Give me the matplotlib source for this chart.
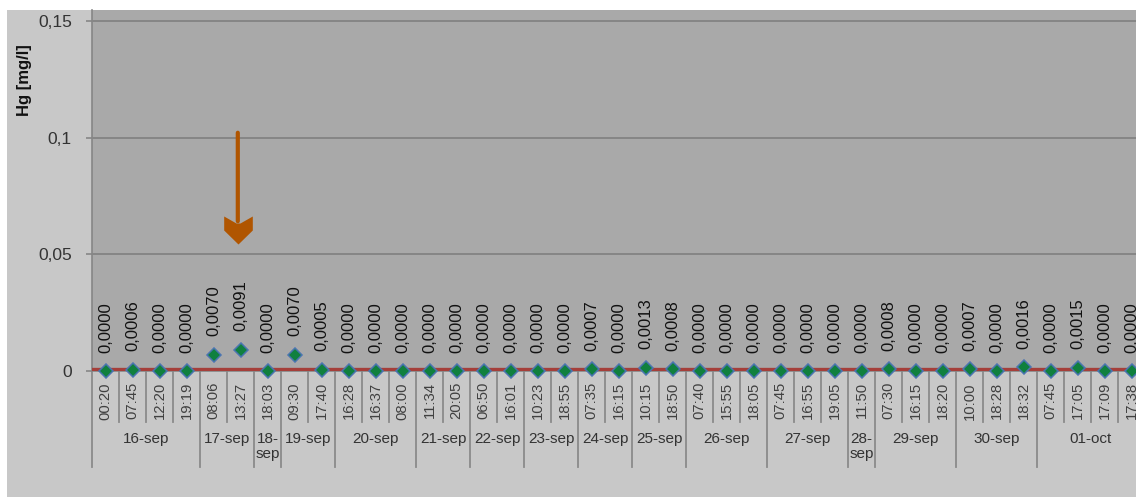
import matplotlib
matplotlib.use("Agg")
import matplotlib.pyplot as plt
from matplotlib.patches import Rectangle
from matplotlib.path import Path
from matplotlib.ticker import FixedLocator, FuncFormatter

plt.rcParams['font.family'] = ['Liberation Sans', 'DejaVu Sans']

# Data
dates = ["16-sep", "17-sep", "18-\nsep", "19-sep", "20-sep", "21-sep", "22-sep",
         "23-sep", "24-sep", "25-sep", "26-sep", "27-sep", "28-\nsep", "29-sep",
         "30-sep", "01-oct"]
times = [
    ["00:20", "07:45", "12:20", "19:19"],
    ["08:06", "13:27"],
    ["18:03"],
    ["09:30", "17:40"],
    ["16:28", "16:37", "08:00"],
    ["11:34", "20:05"],
    ["06:50", "16:01"],
    ["10:23", "18:55"],
    ["07:35", "16:15"],
    ["10:15", "18:50"],
    ["07:40", "15:55", "18:05"],
    ["07:45", "16:55", "19:05"],
    ["11:50"],
    ["07:30", "16:15", "18:20"],
    ["10:00", "18:28", "18:32"],
    ["07:45", "17:05", "17:09", "17:38"],
]
hg = [0.0000, 0.0006, 0.0000, 0.0000,
      0.0070, 0.0091,
      0.0000,
      0.0070, 0.0005,
      0.0000, 0.0000, 0.0000,
      0.0000, 0.0000,
      0.0000, 0.0000,
      0.0000, 0.0000,
      0.0007, 0.0000,
      0.0013, 0.0008,
      0.0000, 0.0000, 0.0000,
      0.0000, 0.0000, 0.0000,
      0.0000,
      0.0008, 0.0000, 0.0000,
      0.0007, 0.0000, 0.0016,
      0.0000, 0.0015, 0.0000, 0.0000]
limit = 0.001
yticks = [0, 0.05, 0.1, 0.15]

# Figure / layout (pixels)
W, H = 1136, 499
ax_left, ax_right, ax_top, ax_bottom = 92, 1145, 10, 371
ax_h = ax_bottom - ax_top

fig = plt.figure(figsize=(W / 100, H / 100), dpi=100, facecolor="white")
fig.patches.append(Rectangle((7 / W, 2 / H), 1, 487 / H, transform=fig.transFigure,
                             facecolor="#c8c8c8", edgecolor="none", zorder=-10))
ax = fig.add_axes([ax_left / W, (H - ax_bottom) / H, (ax_right - ax_left) / W, ax_h / H])
ax.set_facecolor("#a9a9a9")

n = len(hg)
xs = list(range(n))
ax.set_xlim(-0.5, n - 0.5)
ax.set_ylim(0, 0.15 + 11 / 2333)

# grid
for yv in yticks[1:]:
    ax.axhline(yv, color="#808080", lw=1.2, zorder=1)

for s in ["top", "right"]:
    ax.spines[s].set_visible(False)
ax.spines["left"].set_color("#868686")
ax.spines["left"].set_linewidth(1.2)
ax.spines["bottom"].set_color("#868686")
ax.spines["bottom"].set_linewidth(1.2)

ax.yaxis.set_major_locator(FixedLocator(yticks))
ax.yaxis.set_major_formatter(FuncFormatter(lambda v, p: "0" if v == 0 else f"{v:g}".replace(".", ",")))
ax.tick_params(axis="y", length=4.5, width=1.2, color="#868686", pad=10,
               labelsize=12.5, labelcolor="#333333")
ax.set_xticks([])

# limit line and series
ax.axhline(limit, color="#a53f3a", lw=2.4, zorder=3)
ax.plot(xs, hg, linestyle="none", marker="D", markersize=6.8,
        markerfacecolor="#10803e", markeredgecolor="#4a74b0", markeredgewidth=1.1,
        zorder=4, clip_on=False)

for x, v in zip(xs, hg):
    ax.annotate(f"{v:.4f}".replace(".", ","), xy=(x, v), xytext=(0, 13.3),
                textcoords="offset points", rotation=90, ha="center", va="bottom",
                fontsize=12, color="#111111")

# category axis: times and dates
xt = ax.get_xaxis_transform()
def fy(px):
    return -(px - ax_bottom) / ax_h

sep_col = "#8a8a8a"
for x, t in zip(xs, [t for g in times for t in g]):
    ax.text(x, fy(382), t, transform=xt, rotation=90, ha="center", va="top",
            fontsize=10.7, color="#404040", clip_on=False)

start = 0
for d, g in zip(dates, times):
    k = len(g)
    ax.plot([start - 0.5] * 2, [0, fy(467)], transform=xt, color=sep_col, lw=1.3, clip_on=False)
    for j in range(1, k):
        ax.plot([start + j - 0.5] * 2, [0, fy(422)], transform=xt, color=sep_col, lw=1.3,
                clip_on=False)
    ax.text(start + (k - 1) / 2, fy(432), d, transform=xt, ha="center", va="top",
            fontsize=11, color="#333333", linespacing=1.1, clip_on=False)
    start += k

# y label
fig.text(24 / W, (H - 80) / H, "Hg [mg/l]", rotation=90, ha="center", va="center",
         fontsize=12, fontweight="bold", color="#111111")

# arrow
arrow_col = "#b05500"
ax.annotate("", xy=(4.9, 0.063), xytext=(4.9, 0.1033),
            arrowprops=dict(arrowstyle="-", lw=3, color=arrow_col))
head = Path([(0, -14), (-14.3, 0), (-14.3, 14), (-2, 7), (2, 7), (14.3, 14), (14.3, 0), (0, -14)])
ax.plot([4.9], [0.0605], marker=head, markersize=20.6, color=arrow_col,
        markeredgewidth=0, linestyle="none", zorder=5)

fig.savefig("out.png", dpi=100, facecolor=fig.get_facecolor())
